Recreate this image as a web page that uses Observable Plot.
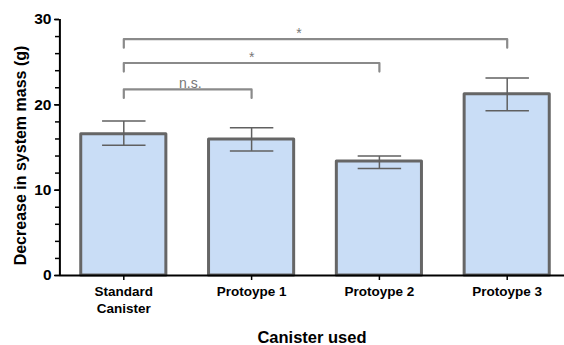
<!DOCTYPE html>
<html>
<head>
<meta charset="utf-8">
<script src="https://cdn.jsdelivr.net/npm/d3@7"></script>
<script src="https://cdn.jsdelivr.net/npm/@observablehq/plot@0.6"></script>
<style>
  html, body { margin: 0; padding: 0; background: #fff; }
  svg { font-family: "Liberation Sans", Arial, sans-serif; }
</style>
</head>
<body>
<div id="chart"></div>
<script>
// ---- data ----
const categories = ["Standard\nCanister", "Protoype 1", "Protoype 2", "Protoype 3"];
const means     = [16.55, 15.95, 13.35, 21.25];
const errHigh   = [18.1, 17.3, 14.0, 23.15];
const errLow    = [15.25, 14.6, 12.55, 19.3];

const bracketFrom  = [0, 0, 0];
const bracketTo    = [1, 2, 3];
const bracketY     = [21.8, 24.9, 27.7];
const bracketLabel = ["n.s.", "*", "*"];
const bracketLabelX = [0.52, 1.0, 1.37];

const yMajorTicks = [0, 10, 20, 30];
const yMinorTicks = d3.range(0, 31, 2);

// ---- derived tables ----
const bars = categories.map((c, i) => ({i, c, mean: means[i], hi: errHigh[i], lo: errLow[i]}));
const half = 0.333, cap = 0.17, leg = 1.0;
const bracketPaths = bracketFrom.flatMap((a, k) => {
  const b = bracketTo[k], y = bracketY[k];
  return [
    {k, x: a, y: y - leg}, {k, x: a, y}, {k, x: b, y}, {k, x: b, y: y - leg}
  ];
});
const bracketTexts = bracketLabel.map((t, k) => ({t, x: bracketLabelX[k], y: bracketY[k]}));

const plot = Plot.plot({
  width: 564,
  height: 345,
  marginLeft: 59,
  marginRight: 0,
  marginTop: 19,
  marginBottom: 70,
  style: {fontFamily: "'Liberation Sans', Arial, sans-serif", background: "#fff"},
  x: {domain: [-0.5, 3.5], range: [59.4, 570.6], axis: null},
  y: {domain: [0, 30], axis: null},
  marks: [
    Plot.rectY(bars, {x1: d => d.i - half, x2: d => d.i + half, y: "mean",
      fill: "#c9ddf6", stroke: "#666", strokeWidth: 3, strokeLinejoin: "round"}),
    // error bars
    Plot.link(bars, {x1: "i", x2: "i", y1: "lo", y2: "hi", stroke: "#606060", strokeWidth: 1.5}),
    Plot.link(bars, {x1: d => d.i - cap, x2: d => d.i + cap, y1: "hi", y2: "hi", stroke: "#606060", strokeWidth: 1.5}),
    Plot.link(bars, {x1: d => d.i - cap, x2: d => d.i + cap, y1: "lo", y2: "lo", stroke: "#606060", strokeWidth: 1.5}),
    // brackets
    Plot.line(bracketPaths, {x: "x", y: "y", z: "k", stroke: "#8a8a8a", strokeWidth: 2.2}),
    Plot.text(bracketTexts, {x: "x", y: "y", text: "t", fill: "#777", fontSize: 14,
      lineAnchor: "bottom", dy: -1}),
    // axes lines
    Plot.ruleY([0], {stroke: "#000", strokeWidth: 2}),
    Plot.ruleX([-0.5], {stroke: "#000", strokeWidth: 2}),
    Plot.axisY({ticks: yMinorTicks, tickSize: 4, text: null, label: null, stroke: "#000", strokeWidth: 1.5}),
    Plot.axisY({ticks: yMajorTicks, tickSize: 5, tickPadding: 3, label: null, stroke: "#000", strokeWidth: 1.5,
      fontSize: 15.5, fontWeight: "bold", fill: "#000"}),
    Plot.axisX({ticks: [0, 1, 2, 3], tickFormat: i => categories[i], tickSize: 5, tickPadding: 4,
      label: null, stroke: "#000", strokeWidth: 1.5, fontSize: 13.5, fontWeight: "bold", fill: "#000", lineHeight: 1.25}),
    Plot.text(["Decrease in system mass (g)"], {frameAnchor: "left", textAnchor: "middle", lineAnchor: "middle",
      rotate: -90, dx: -39, dy: 8, fontSize: 16, fontWeight: "bold", fill: "#000"}),
    Plot.text(["Canister used"], {frameAnchor: "bottom", textAnchor: "middle", lineAnchor: "middle",
      dy: 62, fontSize: 16.5, fontWeight: "bold", fill: "#000"})
  ]
});
document.getElementById("chart").appendChild(plot);
</script>
</body>
</html>
